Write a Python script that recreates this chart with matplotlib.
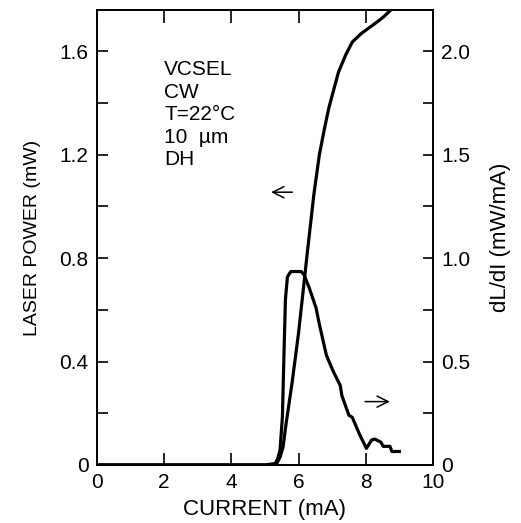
import matplotlib
matplotlib.use("Agg")
import matplotlib.pyplot as plt
from matplotlib.ticker import MultipleLocator, FuncFormatter

# light output L(I), left axis (mW)
power_current = [0.0, 5.0, 5.35, 5.45, 5.54, 5.63, 5.81, 6.00, 6.16, 6.26, 6.46,
                 6.62, 6.77, 6.90, 7.03, 7.19, 7.40, 7.60, 7.86, 8.27, 8.53, 8.74]
power_mw = [0.0, 0.0, 0.005, 0.03, 0.07, 0.16, 0.32, 0.51, 0.70, 0.82, 1.05,
            1.2, 1.3, 1.38, 1.443, 1.52, 1.585, 1.636, 1.668, 1.707, 1.733, 1.759]

# slope efficiency dL/dI, right axis (mW/mA)
slope_current = [0.0, 5.0, 5.30, 5.38, 5.45, 5.52, 5.57, 5.61, 5.67, 5.77, 6.08,
                 6.16, 6.31, 6.52, 6.62, 6.83, 7.04, 7.24, 7.29, 7.50, 7.60,
                 7.81, 8.02, 8.17, 8.27, 8.45, 8.52, 8.72, 8.78, 9.00]
slope_val = [0.0, 0.0, 0.005, 0.03, 0.072, 0.233, 0.556, 0.80, 0.91, 0.935, 0.935,
             0.92, 0.86, 0.76, 0.68, 0.53, 0.45, 0.385, 0.335, 0.24, 0.23,
             0.15, 0.08, 0.12, 0.125, 0.11, 0.09, 0.09, 0.065, 0.065]

info_lines = ["VCSEL", "CW", "T=22°C", "10  µm", "DH"]

plt.rcParams["font.family"] = ["Liberation Sans", "DejaVu Sans"]
plt.rcParams["font.size"] = 15

fig = plt.figure(figsize=(5.21, 5.23), dpi=100)
ax = fig.add_axes([0.186, 0.111, 0.645, 0.870])
ax2 = ax.twinx()

ax.plot(power_current, power_mw, color="black", lw=2.3)
ax2.plot(slope_current, slope_val, color="black", lw=2.3)

ax.set_xlim(0, 10)
ax.set_ylim(0, 1.76)
ax2.set_ylim(0, 2.2)

ax.xaxis.set_major_locator(MultipleLocator(2))
ax.yaxis.set_major_locator(MultipleLocator(0.4))
ax.yaxis.set_minor_locator(MultipleLocator(0.2))
ax2.yaxis.set_major_locator(MultipleLocator(0.5))
ax2.yaxis.set_minor_locator(MultipleLocator(0.25))

fmt = FuncFormatter(lambda v, p: "0" if abs(v) < 1e-9 else f"{v:g}")
ax.xaxis.set_major_formatter(fmt)
ax.yaxis.set_major_formatter(fmt)
ax2.yaxis.set_major_formatter(
    FuncFormatter(lambda v, p: "0" if abs(v) < 1e-9 else f"{v:.1f}"))

ax.tick_params(axis="x", which="both", direction="in", top=True, length=9,
               width=1.2, pad=6, labelsize=15)
ax.tick_params(axis="y", which="both", direction="in", right=False, length=8,
               width=1.2, pad=6, labelsize=15)
ax2.tick_params(axis="y", which="both", direction="in", length=7, width=1.2,
                pad=6, labelsize=15)
for a in (ax, ax2):
    for s in a.spines.values():
        s.set_linewidth(1.3)

ax.set_xlabel("CURRENT (mA)", fontsize=16, labelpad=5)
ax.set_ylabel("LASER POWER (mW)", fontsize=14, labelpad=13)
ax2.set_ylabel("dL/dI (mW/mA)", fontsize=16, labelpad=14)

for i, line in enumerate(info_lines):
    ax.text(2.0, 1.528 - i * 0.0866, line, fontsize=15, va="center", ha="left")

ax.annotate("", xy=(5.1, 1.055), xytext=(5.9, 1.055),
            arrowprops=dict(arrowstyle="->", color="black", lw=1.1,
                            mutation_scale=20))
ax.annotate("", xy=(8.8, 0.245), xytext=(7.9, 0.245),
            arrowprops=dict(arrowstyle="->", color="black", lw=1.1,
                            mutation_scale=20))

fig.savefig("out.png", dpi=100)
